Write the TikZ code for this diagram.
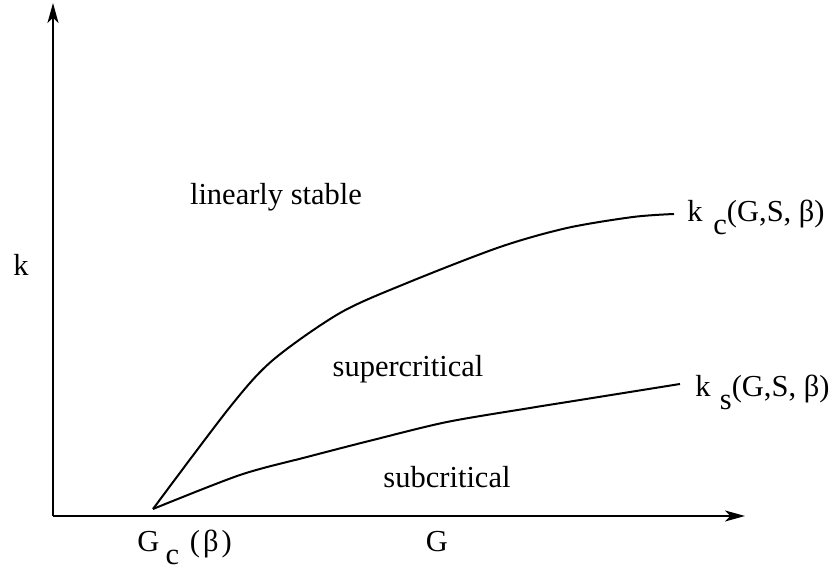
\documentclass[tikz,border=0pt]{standalone}
\usepackage{fontspec}
\setmainfont{Liberation Serif}
\usetikzlibrary{arrows.meta}
\newcommand{\lowsub}[1]{\raisebox{-0.4em}{#1}}
\begin{document}
\begin{tikzpicture}[x=0.4pt,y=-0.4pt,
  lbl/.style={font=\fontsize{12.2}{14}\selectfont, inner sep=0pt},
  curve/.style={line width=0.8pt, line join=round},
  axis/.style={line width=0.85pt,-{Stealth[length=8pt,width=4.4pt,inset=2.2pt]}}]
\useasboundingbox (0,0) rectangle (836,570);
\coordinate (O) at (53,516);
\coordinate (ytip) at (53,3);
\coordinate (xtip) at (745,516);
\draw[axis] (O) -- (ytip);
\draw[axis] (O) -- (xtip);
% upper curve k_c
\draw[curve] plot[smooth, tension=0.5] coordinates {(153,509) (230,407) (273,360) (340,313) (407,283) (500,247) (567,228) (633,217) (674,214)};
% lower curve k_s
\draw[curve] plot[smooth, tension=0.5] coordinates {(153,509) (240,475) (307,457) (373,440) (447,422) (530,408) (580,400) (680,384)};
% labels
\node[lbl, anchor=base] (klab) at (21,276) {k};
\node[lbl, anchor=base] (Glab) at (437,552) {G};
\node[lbl, anchor=base west] (Gc) at (137,552) {G\hspace{0.2em}\lowsub{c}\hspace{0.35em}(\hspace{0.1em}β\hspace{0.1em})};
\node[lbl, anchor=base] (stable) at (276,205) {linearly stable};
\node[lbl, anchor=base] (super) at (408,377) {supercritical};
\node[lbl, anchor=base] (sub) at (447,488) {subcritical};
\node[lbl, anchor=base west] (kc) at (687,222) {k\hspace{0.35em}\lowsub{c}(G,S, β)};
\node[lbl, anchor=base west] (ks) at (695,397) {k\hspace{0.3em}\lowsub{s}(G,S, β)};
\end{tikzpicture}
\end{document}
